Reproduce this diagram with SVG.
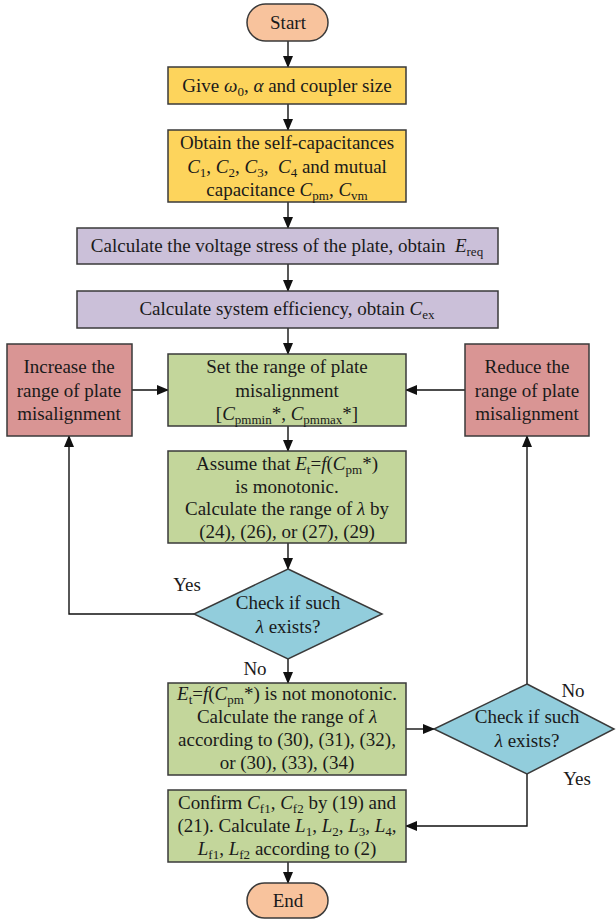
<svg xmlns="http://www.w3.org/2000/svg" width="616" height="920" viewBox="0 0 616 920" font-family="'Liberation Serif', 'DejaVu Serif', serif">
<defs>
<marker id="arr" markerWidth="12" markerHeight="10" refX="11" refY="5" orient="auto" markerUnits="userSpaceOnUse">
<path d="M0,0 L12,5 L0,10 Z" fill="#111"/>
</marker>
<style>
text{font-family:'Liberation Serif','DejaVu Serif',serif;font-size:19px;fill:#1a1a1a;text-anchor:middle}
.i{font-style:italic}
.s{font-size:13px}
.box{stroke:#3a3a3a;stroke-width:1.5}
.term{fill:#F8C39D}
.yel{fill:#FDD45C}
.pur{fill:#CBC0D9}
.grn{fill:#C3D69B}
.red{fill:#D99594}
.blu{fill:#92CDDC}
.ln{fill:none;stroke:#111;stroke-width:1.4;marker-end:url(#arr)}
</style>
</defs>
<rect width="616" height="920" fill="#fff"/>

<g id="connectors">
<path class="ln" d="M288,41 V67"/>
<path class="ln" d="M288,104 V130"/>
<path class="ln" d="M288,202 V228"/>
<path class="ln" d="M288,264 V291"/>
<path class="ln" d="M288,328 V354"/>
<path class="ln" d="M288,426 V451"/>
<path class="ln" d="M288,543 V569"/>
<path class="ln" d="M288,659 V683"/>
<path class="ln" d="M194,614 H69 V436"/>
<path class="ln" d="M132,390 H168"/>
<path class="ln" d="M465,390 H406"/>
<path class="ln" d="M406,729 H434"/>
<path class="ln" d="M527,684 V436"/>
<path class="ln" d="M527,774 V826 H406"/>
<path class="ln" d="M288,862 V883"/>
</g>

<g id="start">
<rect class="box term" x="247" y="4" width="81" height="37" rx="18.5"/>
<text x="288" y="29">Start</text>
</g>

<g id="give">
<rect class="box yel" x="168" y="67" width="238" height="37"/>
<text x="287" y="92">Give <tspan class="i">ω</tspan><tspan class="s" dy="4">0</tspan><tspan dy="-4">, </tspan><tspan class="i">α</tspan> and coupler size</text>
</g>

<g id="obtain">
<rect class="box yel" x="168" y="130" width="238" height="72"/>
<text x="287" y="149">Obtain the self-capacitances</text>
<text x="287" y="173"><tspan class="i">C</tspan><tspan class="s" dy="4">1</tspan><tspan dy="-4">, </tspan><tspan class="i">C</tspan><tspan class="s" dy="4">2</tspan><tspan dy="-4">, </tspan><tspan class="i">C</tspan><tspan class="s" dy="4">3</tspan><tspan dy="-4">,&#160; </tspan><tspan class="i">C</tspan><tspan class="s" dy="4">4</tspan><tspan dy="-4"> and mutual</tspan></text>
<text x="287" y="196">capacitance <tspan class="i">C</tspan><tspan class="s" dy="4">pm</tspan><tspan dy="-4">, </tspan><tspan class="i">C</tspan><tspan class="s" dy="4">vm</tspan></text>
</g>

<g id="stress">
<rect class="box pur" x="77" y="228" width="421" height="36"/>
<text x="287" y="252">Calculate the voltage stress of the plate, obtain&#160; <tspan class="i">E</tspan><tspan class="s" dy="4">req</tspan></text>
</g>

<g id="efficiency">
<rect class="box pur" x="77" y="291" width="421" height="37"/>
<text x="287" y="315">Calculate system efficiency, obtain <tspan class="i">C</tspan><tspan class="s" dy="4">ex</tspan></text>
</g>

<g id="increase">
<rect class="box red" x="7" y="344" width="125" height="92"/>
<text x="69" y="373">Increase the</text>
<text x="69" y="397">range of plate</text>
<text x="69" y="420">misalignment</text>
</g>

<g id="setrange">
<rect class="box grn" x="168" y="354" width="238" height="72"/>
<text x="287" y="373">Set the range of plate</text>
<text x="287" y="397">misalignment</text>
<text x="287" y="420">[<tspan class="i">C</tspan><tspan class="s" dy="4">pmmin</tspan><tspan dy="-4">*, </tspan><tspan class="i">C</tspan><tspan class="s" dy="4">pmmax</tspan><tspan dy="-4">*]</tspan></text>
</g>

<g id="reduce">
<rect class="box red" x="465" y="344" width="124" height="92"/>
<text x="527" y="373">Reduce the</text>
<text x="527" y="397">range of plate</text>
<text x="527" y="420">misalignment</text>
</g>

<g id="assume">
<rect class="box grn" x="168" y="451" width="238" height="92"/>
<text x="287" y="470">Assume that <tspan class="i">E</tspan><tspan class="s" dy="4">t</tspan><tspan dy="-4">=</tspan><tspan class="i">f</tspan>(<tspan class="i">C</tspan><tspan class="s" dy="4">pm</tspan><tspan dy="-4">*)</tspan></text>
<text x="287" y="493">is monotonic.</text>
<text x="287" y="515">Calculate the range of <tspan class="i">λ</tspan> by</text>
<text x="287" y="538">(24), (26), or (27), (29)</text>
</g>

<g id="check1">
<polygon class="box blu" points="288,569 382,614 288,659 194,614"/>
<text x="288" y="609">Check if such</text>
<text x="288" y="633"><tspan class="i">λ</tspan> exists?</text>
</g>

<g id="notmono">
<rect class="box grn" x="168" y="683" width="238" height="92"/>
<text x="287" y="700"><tspan class="i">E</tspan><tspan class="s" dy="4">t</tspan><tspan dy="-4">=</tspan><tspan class="i">f</tspan>(<tspan class="i">C</tspan><tspan class="s" dy="4">pm</tspan><tspan dy="-4">*) is not monotonic.</tspan></text>
<text x="287" y="723">Calculate the range of <tspan class="i">λ</tspan></text>
<text x="287" y="746">according to (30), (31), (32),</text>
<text x="287" y="769">or (30), (33), (34)</text>
</g>

<g id="check2">
<polygon class="box blu" points="527,684 614,729 527,774 434,729"/>
<text x="527" y="723">Check if such</text>
<text x="527" y="747"><tspan class="i">λ</tspan> exists?</text>
</g>

<g id="confirm">
<rect class="box grn" x="168" y="790" width="238" height="72"/>
<text x="287" y="809">Confirm <tspan class="i">C</tspan><tspan class="s" dy="4">f1</tspan><tspan dy="-4">, </tspan><tspan class="i">C</tspan><tspan class="s" dy="4">f2</tspan><tspan dy="-4"> by (19) and</tspan></text>
<text x="287" y="832">(21). Calculate <tspan class="i">L</tspan><tspan class="s" dy="4">1</tspan><tspan dy="-4">, </tspan><tspan class="i">L</tspan><tspan class="s" dy="4">2</tspan><tspan dy="-4">, </tspan><tspan class="i">L</tspan><tspan class="s" dy="4">3</tspan><tspan dy="-4">, </tspan><tspan class="i">L</tspan><tspan class="s" dy="4">4</tspan><tspan dy="-4">,</tspan></text>
<text x="287" y="855"><tspan class="i">L</tspan><tspan class="s" dy="4">f1</tspan><tspan dy="-4">, </tspan><tspan class="i">L</tspan><tspan class="s" dy="4">f2</tspan><tspan dy="-4"> according to (2)</tspan></text>
</g>

<g id="end">
<rect class="box term" x="247" y="883" width="81" height="35" rx="17.5"/>
<text x="288" y="907">End</text>
</g>

<g id="labels">
<text x="187" y="591">Yes</text>
<text x="255" y="675">No</text>
<text x="573" y="697">No</text>
<text x="577" y="785">Yes</text>
</g>
</svg>
